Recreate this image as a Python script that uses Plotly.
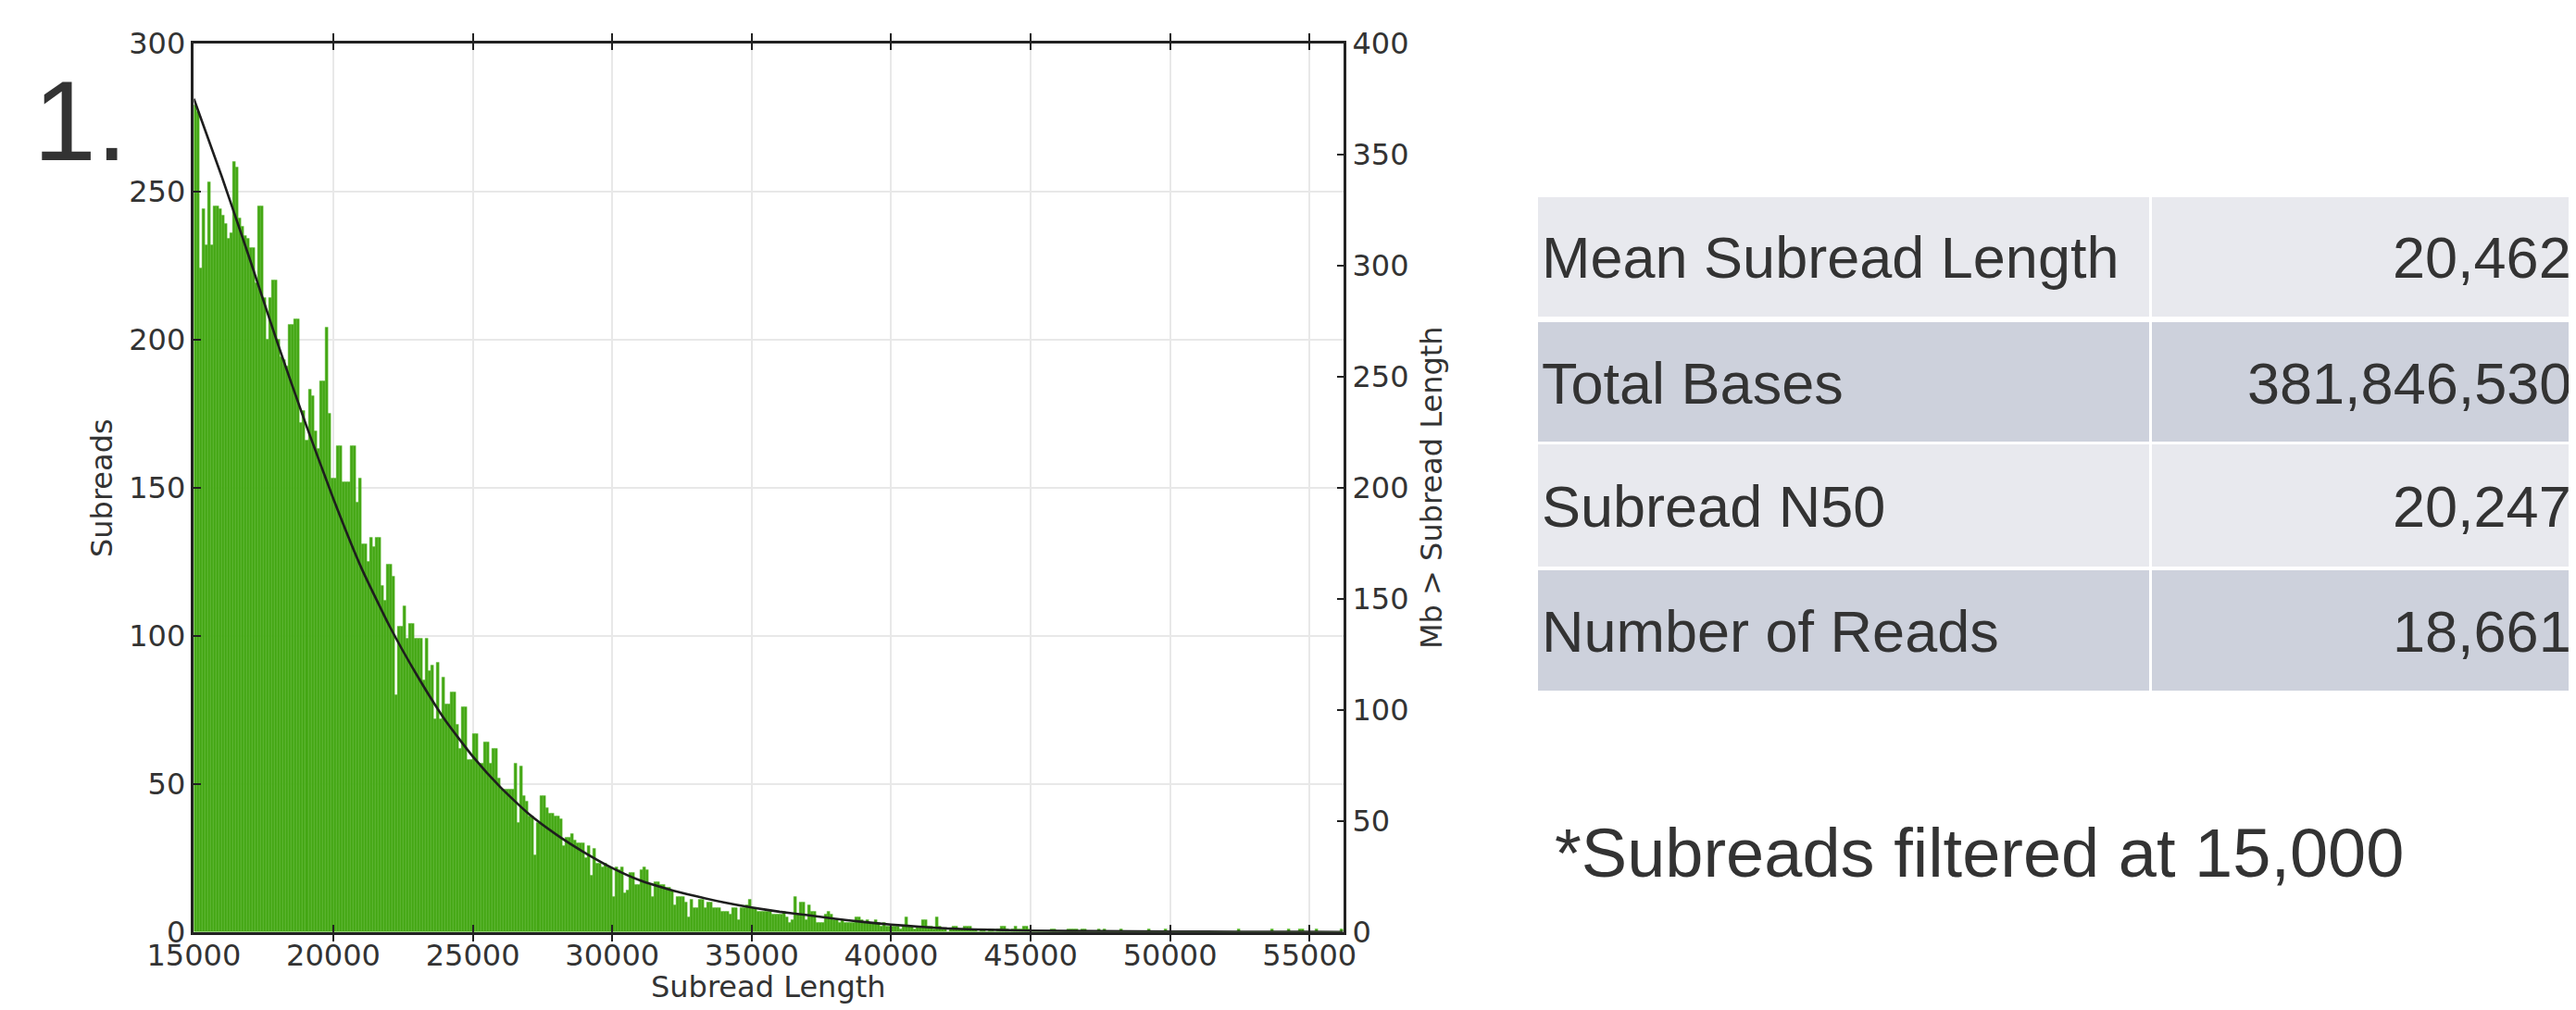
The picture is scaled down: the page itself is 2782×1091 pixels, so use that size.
import plotly.graph_objects as go

# ---------------- data ----------------
BIN_START = 15000
BIN_WIDTH = 100
subread_counts = [
    279, 277, 224, 244, 232, 253, 232, 245, 245, 244,
    242, 239, 234, 236, 260, 258, 241, 238, 235, 234,
    231, 231, 219, 245, 245, 214, 200, 214, 220, 220,
    200, 194, 193, 191, 205, 205, 207, 207, 172, 176,
    166, 183, 181, 169, 163, 186, 186, 204, 175, 153,
    153, 164, 164, 152, 152, 152, 164, 164, 145, 153,
    131, 131, 125, 133, 130, 133, 133, 117, 112, 124,
    124, 120, 80, 103, 103, 110, 99, 104, 104, 99,
    99, 99, 85, 99, 88, 90, 72, 91, 72, 86,
    77, 77, 81, 81, 70, 62, 76, 76, 58, 58,
    67, 67, 57, 57, 64, 64, 57, 62, 62, 52,
    48, 48, 48, 48, 48, 57, 37, 56, 46, 44,
    39, 39, 26, 37, 46, 46, 42, 40, 40, 39,
    39, 38, 29, 32, 32, 33, 31, 30, 30, 30,
    25, 29, 19, 28, 23, 23, 22, 23, 22, 22,
    12, 22, 21, 22, 13, 14, 20, 20, 16, 16,
    21, 22, 21, 16, 12, 17, 17, 16, 16, 15,
    15, 14, 9, 12, 12, 12, 10, 5, 11, 8,
    8, 11, 11, 8, 10, 10, 8, 8, 8, 7,
    7, 7, 6, 8, 8, 4, 8, 8, 9, 11,
    8, 8, 7, 7, 7, 7, 7, 6, 6, 6,
    6, 7, 5, 3, 4, 12, 6, 10, 10, 4,
    9, 7, 7, 3, 3, 3, 6, 7, 6, 4,
    4, 3, 4, 3, 3, 3, 3, 5, 5, 4,
    3, 4, 3, 3, 4, 3, 2, 3, 2, 2,
    2, 2, 2, 1, 2, 5, 2, 2, 1, 2,
    2, 4, 4, 2, 2, 1, 5, 2, 1, 1,
    0, 1, 2, 2, 1, 1, 2, 2, 2, 1,
    1, 0, 1, 1, 0, 1, 1, 0, 1, 2,
    2, 1, 0, 1, 2, 1, 1, 2, 2, 1,
    0, 0, 0, 0, 0, 0, 0, 1, 1, 0,
    0, 0, 0, 1, 1, 1, 1, 0, 1, 1,
    0, 0, 0, 0, 1, 0, 1, 0, 0, 0,
    0, 0, 1, 0, 0, 0, 0, 0, 0, 0,
    0, 0, 1, 0, 0, 0, 0, 0, 1, 0,
    0, 0, 0, 0, 0, 0, 0, 0, 0, 0,
    0, 0, 0, 0, 0, 0, 0, 0, 0, 0,
    0, 0, 0, 0, 1, 0, 0, 0, 0, 0,
    0, 0, 0, 0, 0, 0, 1, 0, 0, 0,
    0, 0, 1, 0, 0, 0, 1, 1, 0, 0,
    0, 0, 1, 0, 0, 0, 0, 0, 0, 0,
    0, 1,
]
bin_centers = [BIN_START + BIN_WIDTH * (i + 0.5) for i in range(len(subread_counts))]

# Mb of subreads longer than a given length (right axis)
mb_lengths = [15000, 16000, 17000, 18000, 19000, 20000, 21000, 22000, 23000, 24000,
              25000, 26000, 27000, 28000, 29000, 30000, 31000, 32000, 33000, 34000,
              35000, 36000, 37000, 38000, 39000, 40000, 41000, 42000, 43000, 44000,
              45000, 47500, 50000, 52500, 55000, 56200]
mb_values = [375, 340, 303, 265, 229, 195, 164, 138, 115.5, 95.5,
             79, 65, 53.2, 43.8, 35.8, 28.8, 23.2, 19.3, 16.1, 13.3,
             11, 9.1, 7.6, 5.9, 4.5, 3.3, 2.4, 1.6, 1.15, 0.85,
             0.6, 0.35, 0.2, 0.1, 0.05, 0.0]

x_ticks = [15000, 20000, 25000, 30000, 35000, 40000, 45000, 50000, 55000]
y_left_ticks = [0, 50, 100, 150, 200, 250, 300]
y_right_ticks = [0, 50, 100, 150, 200, 250, 300, 350, 400]

table_labels = ["Mean Subread Length", "Total Bases", "Subread N50", "Number of Reads"]
table_values = ["20,462", "381,846,530", "20,247", "18,661"]
footnote = "*Subreads filtered at 15,000"
panel_label = "1."

# ---------------- layout geometry (pixels of the 2782x1091 window) ----------------
OFF = 8                      # default page body margin
FW, FH = 2782 - OFF, 1091 - OFF
def px(x):
    return (x - OFF) / FW
def py(y):
    return 1 - (y - OFF) / FH

PL, PR, PT, PB = 209.4, 1451.3, 46.7, 1006.7

AX_FONT = dict(family="DejaVu Sans", size=32, color="#333333")
TB_FONT = dict(family="Liberation Sans", size=63, color="#333333")

fig = go.Figure()
fig.add_trace(go.Bar(
    x=bin_centers, y=subread_counts, width=BIN_WIDTH,
    marker=dict(color="#43a613", line=dict(color="#63bd3a", width=0.5)),
    yaxis="y", showlegend=False,
))
fig.add_trace(go.Scatter(
    x=mb_lengths, y=mb_values, mode="lines", yaxis="y2",
    line=dict(color="#1e1e1e", width=2.6, shape="spline", smoothing=0.5),
    showlegend=False,
))

grid = "#e8e8e8"
fig.update_layout(
    width=FW, height=FH,
    margin=dict(l=0, r=0, t=0, b=0),
    paper_bgcolor="white", plot_bgcolor="white",
    bargap=0,
    xaxis=dict(
        domain=[px(PL), px(PR)], range=[15000, 56230],
        tickvals=x_ticks, ticktext=[str(v) for v in x_ticks],
        ticks="inside", ticklen=8, tickwidth=1.5, tickcolor="#222",
        ticklabelstandoff=-5,
        showline=True, linecolor="#222", linewidth=2.5, mirror="allticks",
        showgrid=True, gridcolor=grid, gridwidth=1.5, zeroline=False,
        tickfont=AX_FONT, automargin=False,
    ),
    yaxis=dict(
        domain=[py(PB), py(PT)], range=[0, 300],
        tickvals=y_left_ticks,
        ticks="inside", ticklen=8, tickwidth=1.5, tickcolor="#222",
        showline=True, linecolor="#222", linewidth=2.5,
        showgrid=True, gridcolor=grid, gridwidth=1.5, zeroline=False,
        tickfont=AX_FONT, automargin=False,
    ),
    yaxis2=dict(
        overlaying="y", side="right", range=[0, 400],
        tickvals=y_right_ticks,
        ticks="inside", ticklen=8, tickwidth=1.5, tickcolor="#222",
        showline=True, linecolor="#222", linewidth=2.5,
        showgrid=False, zeroline=False,
        tickfont=AX_FONT, automargin=False,
    ),
)

annos = []
for text, x, y, ang in [("Subreads", 110, 527, -90),
                        ("Subread Length", 830, 1066, 0),
                        ("Mb > Subread Length", 1546, 527, -90)]:
    annos.append(dict(xref="paper", yref="paper", x=px(x), y=py(y), text=text,
                      textangle=ang, showarrow=False, font=AX_FONT,
                      xanchor="center", yanchor="middle"))

annos.append(dict(xref="paper", yref="paper", x=px(34), y=py(131), text=panel_label,
                  showarrow=False, xanchor="left", yanchor="middle",
                  font=dict(family="Liberation Sans", size=122, color="#333333")))

# table
rows = [(213, 342), (348, 477), (480, 612), (616, 746)]
fills = ["#e8e9ee", "#cdd1dc", "#e8e9ee", "#cdd1dc"]
shapes = []
for (y0, y1), fc, lab, val in zip(rows, fills, table_labels, table_values):
    shapes.append(dict(type="rect", xref="paper", yref="paper",
                       x0=px(1661), x1=px(2321), y0=py(y1), y1=py(y0),
                       fillcolor=fc, line=dict(width=0), layer="below"))
    shapes.append(dict(type="rect", xref="paper", yref="paper",
                       x0=px(2324), x1=px(2782), y0=py(y1), y1=py(y0),
                       fillcolor=fc, line=dict(width=0), layer="below"))
    yc = (y0 + y1) / 2 + 1
    annos.append(dict(xref="paper", yref="paper", x=px(1663), y=py(yc), text=lab,
                      showarrow=False, xanchor="left", yanchor="middle", font=TB_FONT))
    annos.append(dict(xref="paper", yref="paper", x=px(2779), y=py(yc), text=val,
                      showarrow=False, xanchor="right", yanchor="middle", font=TB_FONT))

annos.append(dict(xref="paper", yref="paper", x=px(1677), y=py(921), text=footnote,
                  showarrow=False, xanchor="left", yanchor="middle",
                  font=dict(family="Liberation Sans", size=74, color="#333333")))

fig.update_layout(annotations=annos, shapes=shapes)
fig.write_html("out.html")
